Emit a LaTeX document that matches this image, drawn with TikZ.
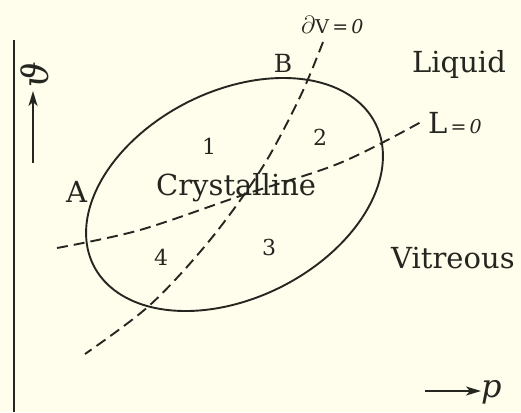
\documentclass[tikz,border=0pt]{standalone}
\usepackage{fontspec}
\setmainfont{DejaVu Serif}
\usetikzlibrary{arrows.meta}
\definecolor{paper}{RGB}{255,254,236}
\definecolor{ink}{RGB}{38,38,33}
\begin{document}
\begin{tikzpicture}[x=1pt,y=-1pt,
  big/.style={font=\fontsize{29}{32}\selectfont, text=ink, inner sep=0pt},
  mid/.style={font=\fontsize{25}{28}\selectfont, text=ink, inner sep=0pt},
  num/.style={font=\fontsize{22}{24}\selectfont, text=ink, inner sep=0pt},
  small/.style={font=\fontsize{19}{22}\selectfont, text=ink, inner sep=0pt},
  solidline/.style={draw=ink, line width=1.9pt},
  dashline/.style={draw=ink, line width=1.9pt, dash pattern=on 11pt off 6pt},
  axisarrow/.style={draw=ink, line width=2pt, -{Stealth[length=15pt,width=9pt,inset=4pt]}}]
\fill[paper] (0,0) rectangle (521,412);
\useasboundingbox (0,0) rectangle (521,412);
% vertical axis
\coordinate (ax1) at (14,40);
\coordinate (ax2) at (14,412);
\draw[ink, line width=2.4pt] (ax1) -- (ax2);
% theta arrow
\coordinate (th1) at (33,163);
\coordinate (th2) at (33,91);
\draw[axisarrow] (th1) -- (th2);
\node[font=\fontsize{36}{40}\selectfont\itshape, text=ink, inner sep=0pt, rotate=90] (theta) at (35,75) {ϑ};
% p arrow
\coordinate (p1) at (425,391);
\coordinate (p2) at (481,391);
\draw[axisarrow, line width=1.6pt] (p1) -- (p2);
\node[font=\fontsize{32}{34}\selectfont, text=ink, inner sep=0pt, anchor=base west] (p) at (481,397) {\itshape p};
% ellipse
\draw[solidline] plot[domain=0:360, samples=120, smooth cycle, variable=\t]
  ({234.5 + 157.8*0.8934*cos(\t) - 103.5*0.4493*sin(\t)},
   {194.5 - (157.8*0.4493*cos(\t) + 103.5*0.8934*sin(\t))});
% dV = 0 curve
\draw[dashline] plot[smooth, tension=0.55] coordinates
  {(323,42) (300,97) (262,168) (210,240) (150,305) (85,354)};
% L = 0 curve
\draw[dashline] plot[smooth, tension=0.55] coordinates
  {(57,248) (140,230) (243,195) (340,163) (421,122)};
% labels
\node[small, anchor=base west] (dv) at (301,34) {\fontsize{23}{24}\selectfont$\partial$\fontsize{19}{22}\selectfont V\,=\,\textit{0}};
\node[mid, anchor=base] (B) at (283,72) {B};
\node[big, anchor=base west] (liq) at (412,72) {Liquid};
\node[big, anchor=base west] (L) at (428,133) {L\fontsize{19}{22}\selectfont\,=\,\textit{0}};
\node[num, anchor=base] (n1) at (209,154) {1};
\node[num, anchor=base] (n2) at (320,145) {2};
\node[num, anchor=base] (n3) at (269,255) {3};
\node[num, anchor=base] (n4) at (161,265) {4};
\node[big, anchor=base] (A) at (76.5,202) {A};
\node[big, anchor=base west] (cry) at (156,195) {Crystalline};
\node[big, anchor=base west] (vit) at (391,268) {Vitreous};
\end{tikzpicture}
\end{document}
